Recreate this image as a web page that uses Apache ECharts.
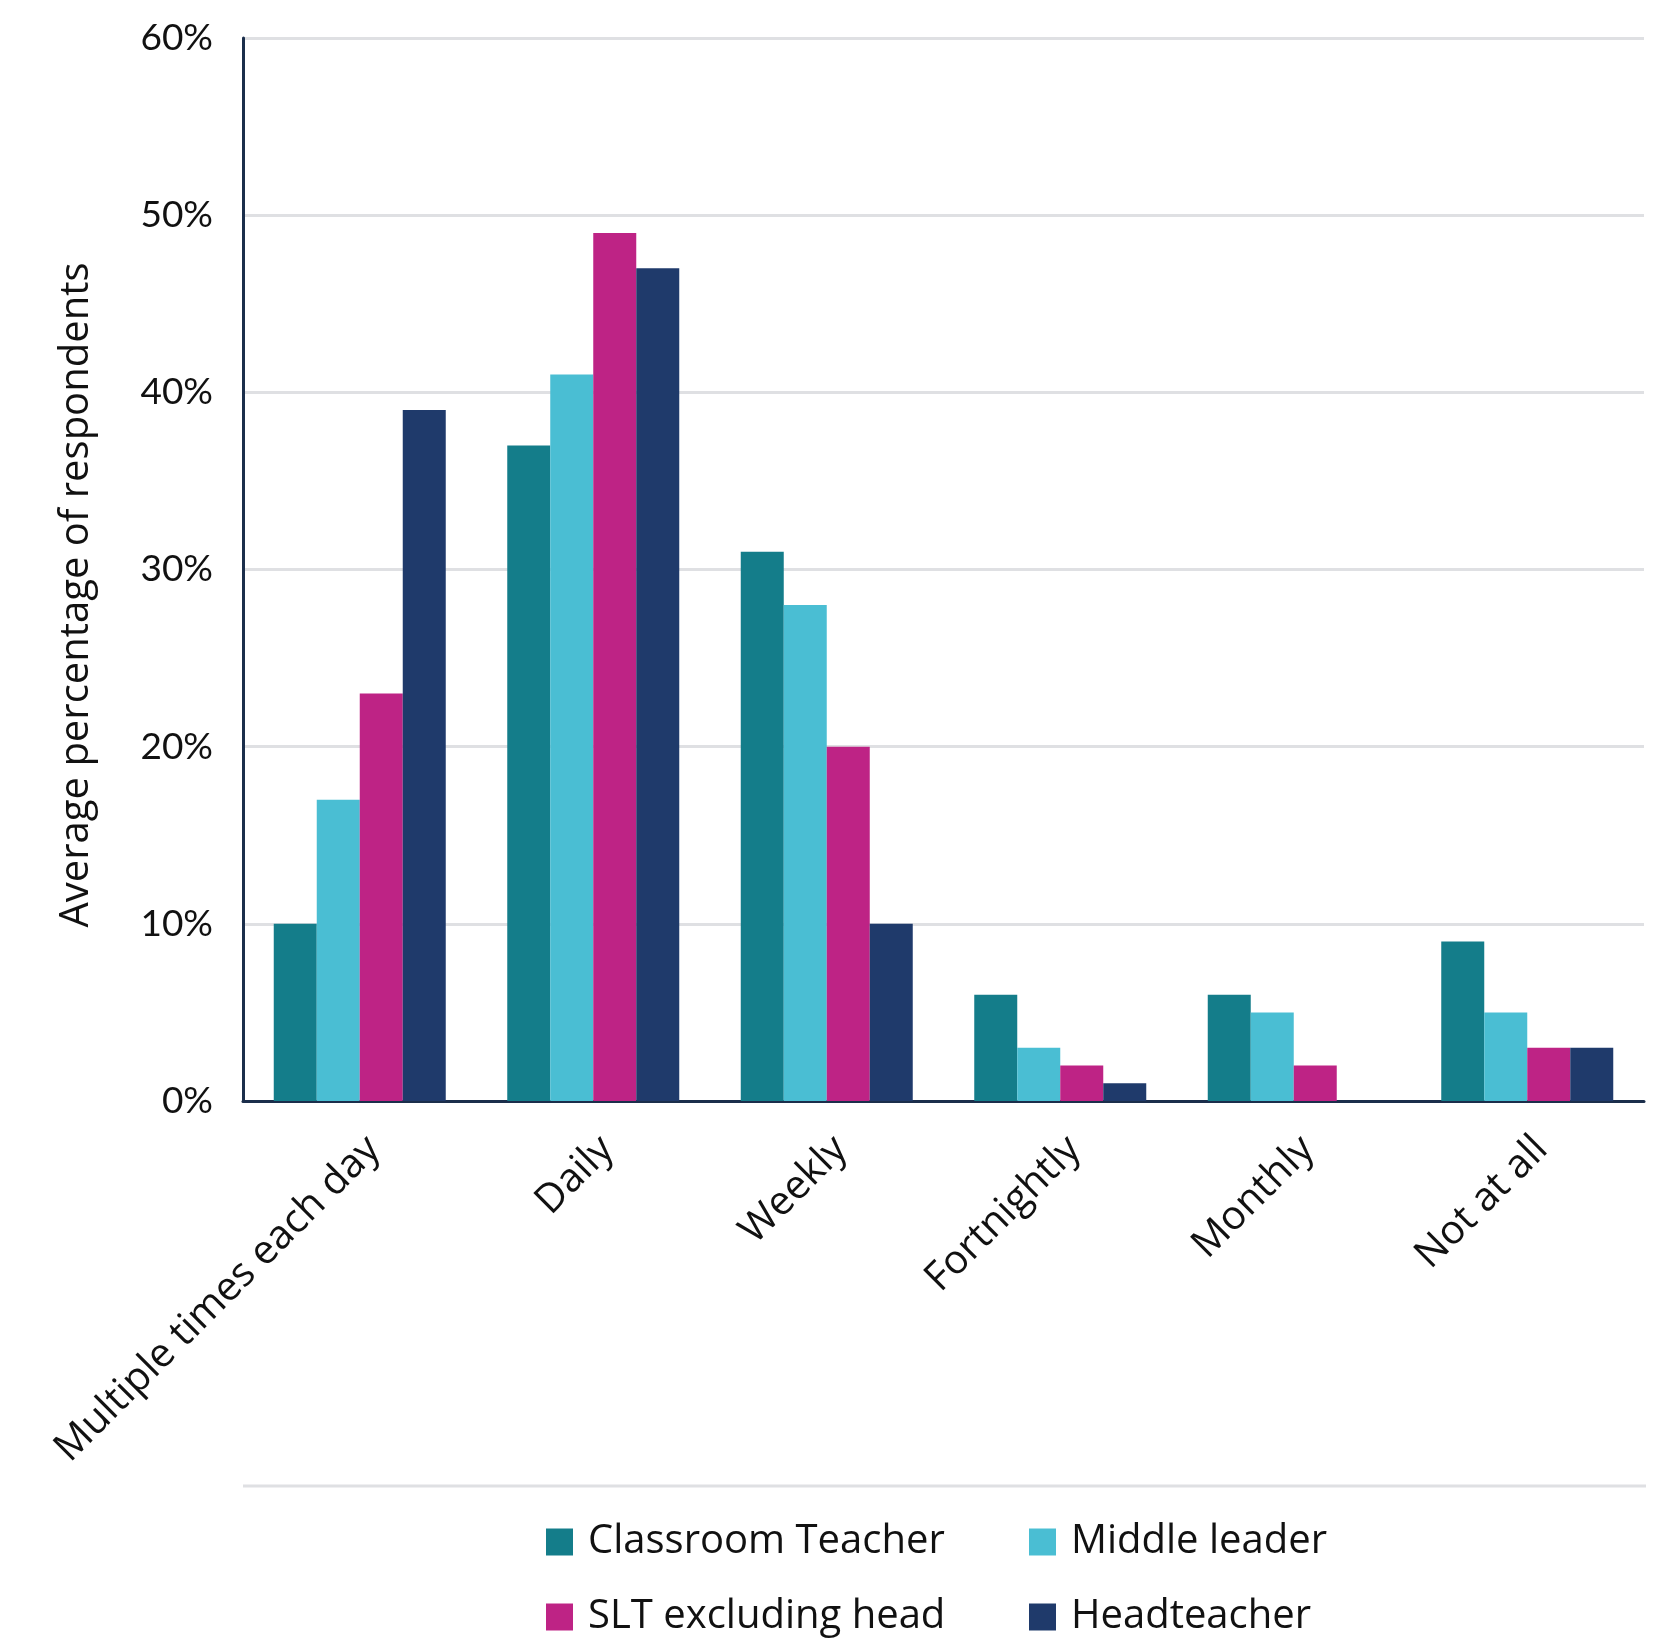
<!DOCTYPE html>
<html>
<head>
<meta charset="utf-8">
<script src="https://cdn.jsdelivr.net/npm/echarts@6/dist/echarts.min.js"></script>
<style>
  html, body { margin: 0; padding: 0; background: #ffffff; }
  #chart { width: 1670px; height: 1638px; }
</style>
</head>
<body>
<div id="chart"></div>
<script>
// Frequency categories on the x axis
const categories = ['Multiple times each day', 'Daily', 'Weekly', 'Fortnightly', 'Monthly', 'Not at all'];

// Average percentage of respondents per role
const classroomTeacher = [10, 37, 31, 6, 6, 9];
const middleLeader     = [17, 41, 28, 3, 5, 5];
const sltExcludingHead = [23, 49, 20, 2, 2, 3];
const headteacher      = [39, 47, 10, 1, 0, 3];

const seriesNames = ['Classroom Teacher', 'Middle leader', 'SLT excluding head', 'Headteacher'];
const yTicks = [0, 10, 20, 30, 40, 50, 60];

const colors = ['#147D8A', '#4ABED3', '#BE2385', '#1F3A6B'];
const NUM_FONT = 'Lato, "Open Sans", sans-serif';
const FONT = '"Open Sans", Lato, sans-serif';
const TEXT = '#111111';

const chart = echarts.init(document.getElementById('chart'), null, { renderer: 'canvas' });

const values = [classroomTeacher, middleLeader, sltExcludingHead, headteacher];

function legendAt(name, left, top) {
  return {
    data: [name],
    left: left,
    top: top,
    orient: 'horizontal',
    icon: 'rect',
    itemWidth: 27,
    itemHeight: 27,
    padding: 0,
    selectedMode: false,
    textStyle: { fontFamily: FONT, fontSize: 40, color: TEXT, padding: [0, 0, 0, 10] }
  };
}

const option = {
  backgroundColor: '#ffffff',
  animation: false,
  color: colors,
  grid: { left: 243, top: 38, right: 26, bottom: 537, containLabel: false },
  legend: [
    legendAt(seriesNames[0], 546, 1522),
    legendAt(seriesNames[1], 1029, 1522),
    legendAt(seriesNames[2], 546, 1597),
    legendAt(seriesNames[3], 1029, 1597)
  ],
  xAxis: {
    type: 'category',
    data: categories,
    axisLine: { show: true, lineStyle: { color: '#1B2E4B', width: 3 } },
    axisTick: { show: false },
    axisLabel: {
      rotate: 45,
      interval: 0,
      margin: 28,
      verticalAlign: 'top',
      fontFamily: FONT,
      fontSize: 40,
      color: TEXT
    }
  },
  yAxis: {
    type: 'value',
    min: yTicks[0],
    max: yTicks[yTicks.length - 1],
    interval: 10,
    axisLine: { show: true, lineStyle: { color: '#1B2E4B', width: 3 } },
    axisTick: { show: false },
    axisLabel: {
      margin: 30,
      fontFamily: NUM_FONT,
      fontSize: 37,
      color: TEXT,
      formatter: '{value}%'
    },
    splitLine: { show: true, lineStyle: { color: '#DFE0E3', width: 3 } }
  },
  series: seriesNames.map((name, i) => ({
    name: name,
    type: 'bar',
    data: values[i],
    barWidth: 43,
    barGap: '0%',
    itemStyle: { color: colors[i] }
  })),
  graphic: [
    {
      type: 'text',
      x: 77,
      y: 595,
      rotation: Math.PI / 2,
      style: {
        text: 'Average percentage of respondents',
        fontFamily: FONT,
        fontSize: 40,
        fill: TEXT,
        align: 'center',
        verticalAlign: 'middle'
      }
    },
    {
      type: 'line',
      shape: { x1: 243, y1: 1486, x2: 1646, y2: 1486 },
      style: { stroke: '#DFE0E3', lineWidth: 3 }
    }
  ]
};

chart.setOption(option);
</script>
</body>
</html>
